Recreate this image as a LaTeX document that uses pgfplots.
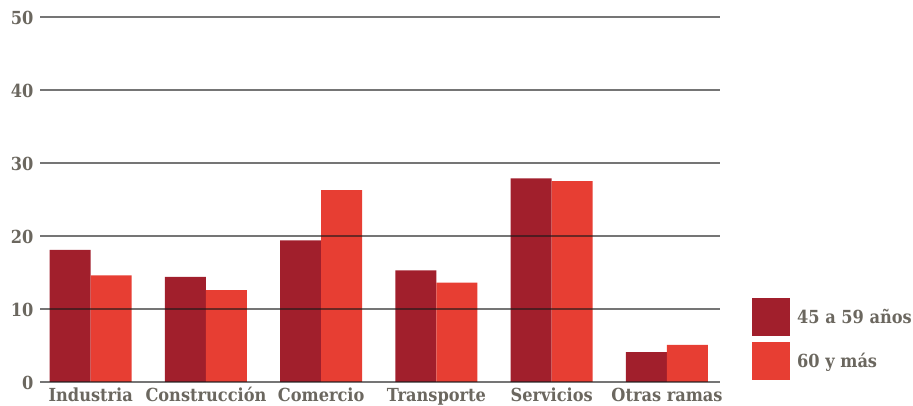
\documentclass[border=0pt]{standalone}
\usepackage{pgfplots}
\pgfplotsset{compat=1.18}
\usepackage{fontspec}
\setmainfont{DejaVu Serif Condensed}
\definecolor{oscuro}{HTML}{A11F2C}
\definecolor{claro}{HTML}{E73E33}
\definecolor{texto}{HTML}{6B675F}
\begin{document}
\begin{tikzpicture}[x=1pt,y=1pt]
\path[use as bounding box] (-40,-24) rectangle (873,382);
\begin{axis}[
    at={(0,0)}, anchor=south west,
    scale only axis,
    width=680pt, height=365pt,
    ybar, bar width=41pt,
    ymin=0, ymax=50,
    ytick={0,10,...,50},
    xmin=-0.44, xmax=5.46,
    xtick=data,
    xticklabels={Industria, Construcción, Comercio, Transporte, Servicios, Otras ramas},
    axis line style={draw=none},
    major tick length=0pt,
    ymajorgrids=true,
    grid style={black!90, opacity=0.6, line width=1.2pt},
    axis on top,
    tick label style={font=\fontsize{18}{18}\selectfont\bfseries, text=texto},
    /pgf/number format/assume math mode=true,
    yticklabel style={xshift=-3pt, yshift=-1pt},
    xticklabel style={text height=13pt, text depth=4pt, yshift=-3pt},
    legend image code/.code={\fill[#1] (0pt,-19pt) rectangle (38pt,19pt);},
    legend style={at={(rel axis cs:1.047,0.23)}, anchor=north west, draw=none,
        inner sep=0pt, row sep=6pt, font=\fontsize{18}{18}\selectfont\bfseries,
        text=texto, /tikz/every odd column/.append style={column sep=5pt}},
    legend cell align=left,
]
\addplot[fill=oscuro, draw=none, bar shift=-20.5pt] coordinates {
    (0,18.1) (1,14.4) (2,19.4) (3,15.3) (4,27.9) (5,4.1)
};
\addplot[fill=claro, draw=none, bar shift=20.5pt] coordinates {
    (0,14.6) (1,12.6) (2,26.3) (3,13.6) (4,27.5) (5,5.1)
};
\legend{45 a 59 años, 60 y más}
\end{axis}
\end{tikzpicture}
\end{document}
